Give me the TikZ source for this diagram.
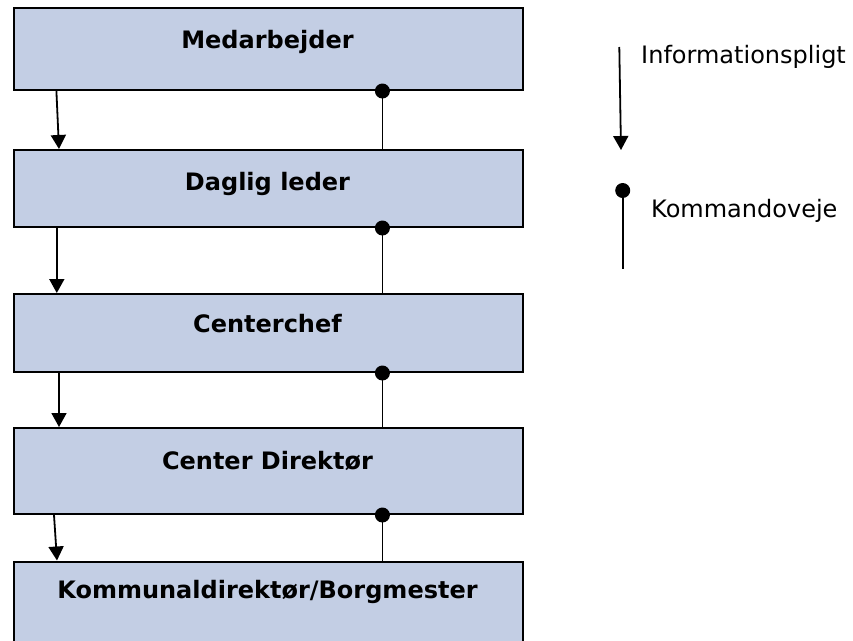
\documentclass[tikz,border=0pt]{standalone}
\usepackage{fontspec}
\setmainfont{DejaVu Sans}
\usetikzlibrary{arrows.meta}
\definecolor{boxfill}{RGB}{195,206,228}
\begin{document}
\begin{tikzpicture}[x=1pt,y=-1pt,
  box/.style={draw=black, line width=2pt, fill=boxfill, rectangle, minimum width=509pt, inner sep=0pt, anchor=north west},
  lbl/.style={anchor=base, inner sep=0pt, font=\fontsize{24}{28}\selectfont\bfseries},
  leg/.style={anchor=base west, inner sep=0pt, font=\fontsize{24}{28}\selectfont},
  info/.style={line width=1.8pt, -{Triangle[width=15pt,length=14pt]}},
  cmd/.style={line width=1.8pt},
  dotmark/.style={fill=black}]
\useasboundingbox (0,0) rectangle (853,640);
% boxes
\node[box, minimum height=82pt] (b1) at (13,7) {};
\node[box, minimum height=77pt] (b2) at (13,149) {};
\node[box, minimum height=78pt] (b3) at (13,293) {};
\node[box, minimum height=86pt] (b4) at (13,427) {};
\node[box, minimum height=82pt] (b5) at (13,560.5) {};
% labels
\node[lbl] (t1) at (267.5,48) {Medarbejder};
\node[lbl] (t2) at (267.5,190) {Daglig leder};
\node[lbl] (t3) at (267.5,332) {Centerchef};
\node[lbl] (t4) at (267.5,469) {Center Direktør};
\node[lbl] (t5) at (267.5,598) {Kommunaldirektør/Borgmester};
% information arrows
\draw[info] ([xshift=43.4pt]b1.south west) -- ([xshift=46pt]b2.north west);
\draw[info] ([xshift=43.8pt]b2.south west) -- ([xshift=43.8pt]b3.north west);
\draw[info] ([xshift=46pt]b3.south west) -- ([xshift=46pt]b4.north west);
\draw[info] ([xshift=41pt]b4.south west) -- ([xshift=44pt]b5.north west);
% command lines
\foreach \a/\b in {b1/b2,b2/b3,b3/b4,b4/b5}{
  \draw[cmd] ([xshift=369.4pt]\a.south west) -- ([xshift=369.4pt]\b.north west);
  \fill[dotmark] ([xshift=369.4pt]\a.south west) circle (7.5pt);
}
% legend
\coordinate (ia) at (619.3,47);
\coordinate (ib) at (621,150);
\draw[info] (ia) -- (ib);
\node[leg] (li) at (641,63) {Informationspligt};
\coordinate (ka) at (622.7,190.5);
\coordinate (kb) at (622.7,269);
\draw[cmd] (ka) -- (kb);
\fill[dotmark] (ka) circle (7.5pt);
\node[leg] (lk) at (651,217.5) {Kommandoveje};
\end{tikzpicture}
\end{document}
